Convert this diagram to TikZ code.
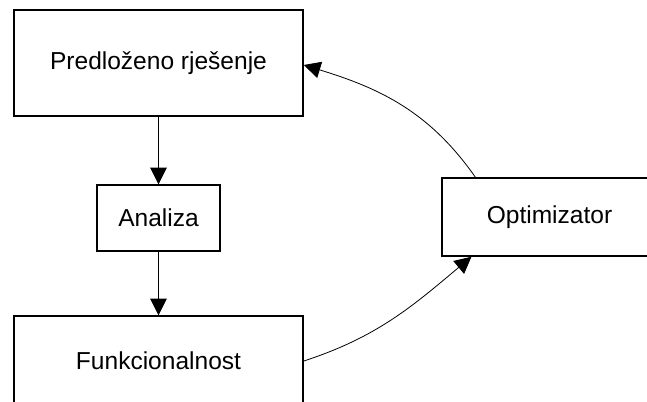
\documentclass[tikz,border=0pt]{standalone}
\usepackage{fontspec}
\setmainfont{Liberation Sans}
\usepackage{tikz}
\usetikzlibrary{arrows.meta,positioning}
\tikzset{
  >={Triangle[length=12.5pt,width=12.5pt]},
  blk/.style ={draw, line width=1.1pt, font=\fontsize{18.4}{22}\selectfont, inner sep=0pt},
  lnk/.style ={->, line width=0.6pt}
}
\begin{document}
\begin{tikzpicture}[x=0.75pt,y=-0.75pt]
\clip (0,0) rectangle (647,401);
\node[blk, minimum width=216.75pt, minimum height=79.5pt] (pred) at (158.5,63) {Predloženo rješenje};
\node[blk, minimum width=92.25pt, minimum height=49.5pt] (anal) at (158.5,218) {Analiza};
\node[blk, minimum width=216.75pt, minimum height=67.5pt] (funk) at (158.5,361) {Funkcionalnost};
\node[blk, minimum width=161pt, minimum height=58.5pt] (opt) at (549.5,217) {Optimizator};
\draw[lnk] (pred) -- (anal);
\draw[lnk] (anal) -- (funk);
\draw[lnk] (funk.east) to[out=18,in=-140] ([xshift=22.5pt]opt.south west);
\draw[lnk] ([xshift=25.5pt]opt.north west) to[out=125,in=-17] ([yshift=-1.5pt]pred.east);
\end{tikzpicture}
\end{document}
